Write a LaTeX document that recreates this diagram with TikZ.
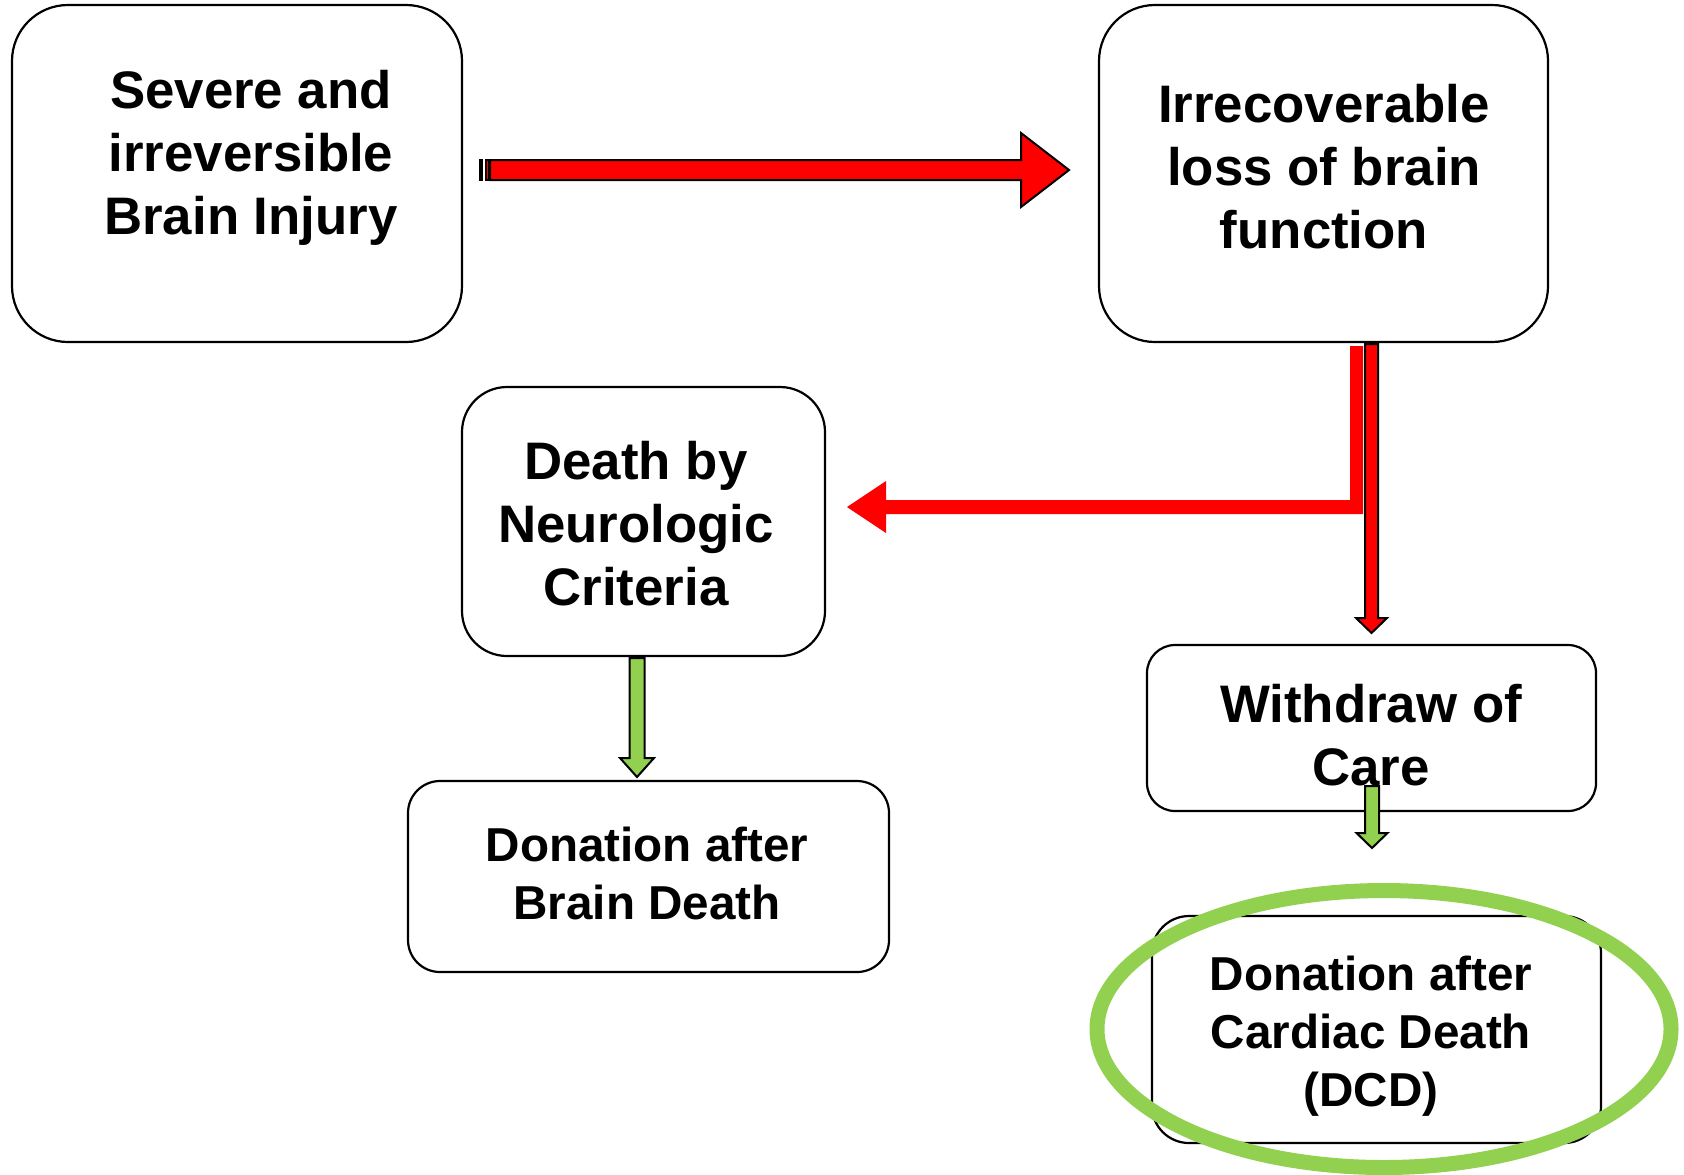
\documentclass[tikz,border=0pt]{standalone}
\usepackage{fontspec}
\setmainfont{Liberation Sans}
\usetikzlibrary{calc,shapes.geometric}
\definecolor{arrowred}{HTML}{FF0000}
\definecolor{leafgreen}{HTML}{92D050}

\begin{document}
\begin{tikzpicture}[x=0.5pt,y=-0.5pt,
  box/.style={draw=black, line width=1.1pt, fill=white, rectangle,
              inner sep=0pt, outer sep=0pt},
  bigtext/.style={anchor=base, inner sep=0pt,
                  font=\fontsize{26.4}{31.5}\selectfont\bfseries},
  smalltext/.style={anchor=base, inner sep=0pt,
                  font=\fontsize{23.8}{29}\selectfont\bfseries},
  redblock/.style={fill=arrowred, draw=black, line width=1pt, line join=miter},
  redflat/.style={fill=arrowred, draw=none},
  greenblock/.style={fill=leafgreen, draw=black, line width=1pt, line join=miter},
]
\useasboundingbox (0,0) rectangle (1684,1174);

% boxes
\node[box, minimum width=225pt, minimum height=168.5pt, rounded corners=28pt]
  (b1) at (237,173.5) {};
\node[box, minimum width=224.5pt, minimum height=168.5pt, rounded corners=28pt]
  (b2) at (1323.5,173.5) {};
\node[box, minimum width=181.5pt, minimum height=134.5pt, rounded corners=22.5pt]
  (b3) at (643.5,521.5) {};
\node[box, minimum width=240.5pt, minimum height=95.5pt, rounded corners=16pt]
  (b4) at (648.5,876.5) {};
\node[box, minimum width=224.5pt, minimum height=83pt, rounded corners=14pt]
  (b5) at (1371.5,728) {};
\node[box, minimum width=224.5pt, minimum height=113.5pt, rounded corners=18.5pt]
  (b6) at (1376.5,1029.5) {};

% labels
\node[bigtext] (t1) at (251,108)
  {\begin{tabular}[t]{@{}c@{}}Severe and\\irreversible\\Brain Injury\end{tabular}};
\node[bigtext] (t2) at (1324,122)
  {\begin{tabular}[t]{@{}c@{}}Irrecoverable\\loss of brain\\function\end{tabular}};
\node[bigtext] (t3) at (636,479)
  {\begin{tabular}[t]{@{}c@{}}Death by\\Neurologic\\Criteria\end{tabular}};
\node[smalltext] (t4) at (647,861)
  {\begin{tabular}[t]{@{}c@{}}Donation after\\Brain Death\end{tabular}};
\node[bigtext] (t5) at (1371,722)
  {\begin{tabular}[t]{@{}c@{}}Withdraw of\\Care\end{tabular}};
\node[smalltext] (t6) at (1371,990)
  {\begin{tabular}[t]{@{}c@{}}Donation after\\Cardiac Death\\(DCD)\end{tabular}};

% striped block arrow: injury -> loss of function
\coordinate (a1s) at ($(b1.east)+(16,-3.5)$);
\coordinate (a1e) at ($(b2.west)+(-30,-3.5)$);
\fill[black] ($(a1s)+(0.5,-11)$) rectangle ($(a1s)+(5,11)$);
\draw[redblock] ($(a1s)+(7.5,-10)$) rectangle ($(a1s)+(10.5,10)$);
\draw[redblock] ($(a1s)+(12,-10)$) -- ($(a1e)+(-48,-10)$) -- ($(a1e)+(-48,-37)$)
  -- (a1e) -- ($(a1e)+(-48,37)$) -- ($(a1e)+(-48,10)$) -- ($(a1s)+(12,10)$) -- cycle;

% elbow arrow: loss of function -> neurologic criteria
\coordinate (l3s) at ($(b2.south)+(33,4)$);
\coordinate (l3e) at ($(b3.east)+(22,-14.5)$);
\coordinate (l3c) at (l3s |- l3e);
\fill[redflat] ($(l3s)+(-6.5,0)$) -- ($(l3s)+(6.5,0)$) -- ($(l3c)+(6.5,7)$)
  -- ($(l3e)+(39,7)$) -- ($(l3e)+(39,26)$) -- (l3e) -- ($(l3e)+(39,-26)$)
  -- ($(l3e)+(39,-7)$) -- ($(l3c)+(-6.5,-7)$) -- cycle;

% straight arrow: loss of function -> withdraw of care
\coordinate (a2s) at ($(b2.south)+(48,2)$);
\coordinate (a2e) at ($(b5.north)+(0,-12)$);
\draw[redblock] ($(a2s)+(-6.5,0)$) -- ($(a2s)+(6.5,0)$) -- ($(a2e)+(6.5,-15)$)
  -- ($(a2e)+(15.5,-15)$) -- (a2e) -- ($(a2e)+(-15.5,-15)$)
  -- ($(a2e)+(-6.5,-15)$) -- cycle;

% green arrows
\coordinate (a4s) at ($(b3.south)+(-6.5,2)$);
\coordinate (a4e) at ($(b4.north)+(-11.5,-4)$);
\draw[greenblock] ($(a4s)+(-7.5,0)$) -- ($(a4s)+(7.5,0)$) -- ($(a4e)+(7.5,-19)$)
  -- ($(a4e)+(17,-19)$) -- (a4e) -- ($(a4e)+(-17,-19)$)
  -- ($(a4e)+(-7.5,-19)$) -- cycle;

\coordinate (a5s) at ($(b5.south)+(0.5,-25)$);
\coordinate (a5e) at ($(b5.south)+(0.5,37)$);
\draw[greenblock] ($(a5s)+(-7,0)$) -- ($(a5s)+(7,0)$) -- ($(a5e)+(7,-15)$)
  -- ($(a5e)+(15.5,-15)$) -- (a5e) -- ($(a5e)+(-15.5,-15)$)
  -- ($(a5e)+(-7,-15)$) -- cycle;

% highlight ring around the DCD box
\node[draw=leafgreen, line width=7.5pt, ellipse, inner sep=0pt, outer sep=0pt,
      minimum width=287pt, minimum height=138.5pt] (ring) at (1384,1029) {};
\end{tikzpicture}
\end{document}
